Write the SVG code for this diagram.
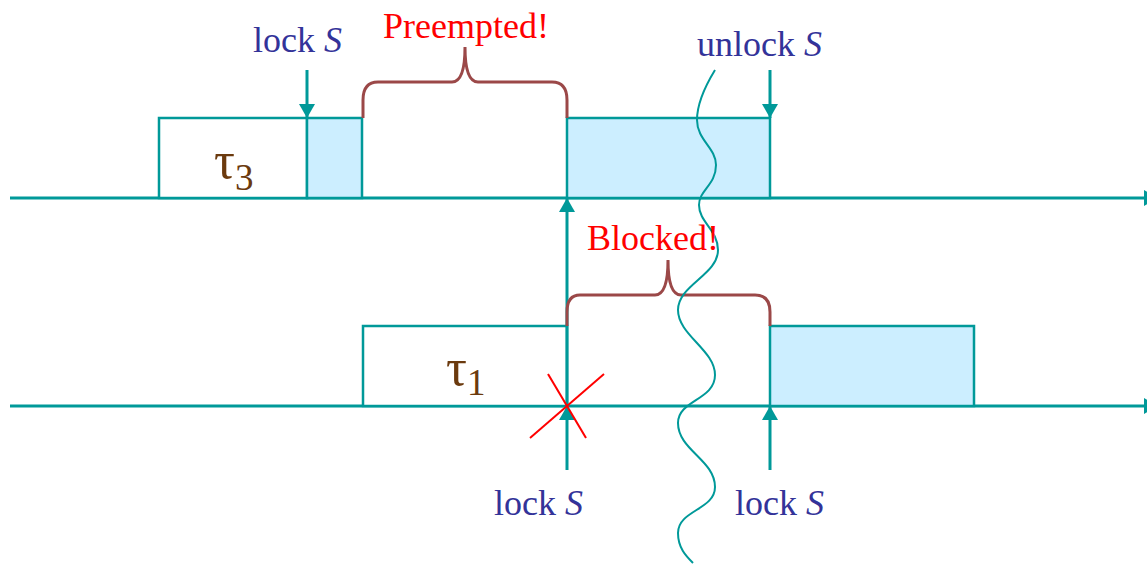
<svg xmlns="http://www.w3.org/2000/svg" width="1147" height="564" viewBox="0 0 1147 564">
<defs>
<style>
.ax{stroke:#009999;stroke-width:3;fill:none}
.box{stroke:#009999;stroke-width:2.5;fill:#ffffff}
.crit{stroke:#009999;stroke-width:2.5;fill:#cceeff}
.arr{stroke:#009999;stroke-width:3;fill:none}
.br{stroke:#9b4848;stroke-width:3;fill:none}
.lbl{font-family:"Liberation Serif","Times New Roman",serif;font-size:36px;fill:#333399}
.red{font-family:"Liberation Serif","Times New Roman",serif;font-size:36px;fill:#ff0000}
.tau{font-family:"Liberation Serif","Times New Roman",serif;font-size:52px;fill:#6b3a0e}
.sub{font-size:37px}
</style>
<marker id="ah" markerWidth="14" markerHeight="16" refX="14" refY="8" orient="auto" markerUnits="userSpaceOnUse">
<path d="M0,0 L14,8 L0,16 Z" fill="#009999"/>
</marker>
</defs>
<rect width="1147" height="564" fill="#ffffff"/>
<g id="axes">
<line class="ax" x1="10" y1="198" x2="1158" y2="198" marker-end="url(#ah)"/>
<line class="ax" x1="10" y1="406" x2="1158" y2="406" marker-end="url(#ah)"/>
</g>
<g id="tau3">
<rect class="box" x="159" y="118" width="148" height="80"/>
<rect class="crit" x="307" y="118" width="55" height="80"/>
<rect class="crit" x="567" y="118" width="203" height="80"/>
<text class="tau" x="214" y="178">τ<tspan class="sub" dy="12">3</tspan></text>
</g>
<g id="tau1">
<rect class="box" x="363" y="326" width="204" height="80"/>
<rect class="crit" x="770" y="326" width="204" height="80"/>
<text class="tau" x="446" y="385">τ<tspan class="sub" dy="10">1</tspan></text>
</g>
<g id="connectors">
<line class="arr" x1="307" y1="70" x2="307" y2="118" marker-end="url(#ah)"/>
<line class="arr" x1="770" y1="70" x2="770" y2="118" marker-end="url(#ah)"/>
<line class="arr" x1="567" y1="406" x2="567" y2="198" marker-end="url(#ah)"/>
<line class="arr" x1="567" y1="470" x2="567" y2="406" marker-end="url(#ah)"/>
<line class="arr" x1="770" y1="470" x2="770" y2="406" marker-end="url(#ah)"/>
</g>
<g id="cross">
<line x1="530" y1="438" x2="604" y2="374" stroke="#ff0000" stroke-width="2"/>
<line x1="548" y1="374" x2="586" y2="438" stroke="#ff0000" stroke-width="2"/>
</g>
<g id="braces">
<path class="br" d="M363,118 L363,100 Q363,82 378,82 L452,82 Q465,82 465,47 Q465,82 478,82 L552,82 Q567,82 567,100 L567,118"/>
<path class="br" d="M567,326 L567,312 Q567,295 580,295 L655,295 Q668,295 668,260 Q668,295 681,295 L755,295 Q770,295 770,312 L770,326"/>
</g>
<g id="break">
<path d="M715,70 C704,88 697,105 697,120 C697,140 716,148 716,165 C716,185 699,190 699,205 C699,222 718,230 718,250 C718,275 678,285 678,310 C678,335 715,350 715,375 C715,400 678,400 678,423 C678,450 715,460 715,487 C715,510 678,510 678,533 C678,548 686,556 693,563" stroke="#009999" stroke-width="2" fill="none"/>
</g>
<g id="labels">
<text class="lbl" x="253" y="52">lock <tspan font-style="italic">S</tspan></text>
<text class="lbl" x="697" y="56">unlock <tspan font-style="italic">S</tspan></text>
<text class="lbl" x="494" y="515">lock <tspan font-style="italic">S</tspan></text>
<text class="lbl" x="735" y="515">lock <tspan font-style="italic">S</tspan></text>
<text class="red" x="383" y="38">Preempted!</text>
<text class="red" x="587" y="250">Blocked!</text>
</g>
</svg>
